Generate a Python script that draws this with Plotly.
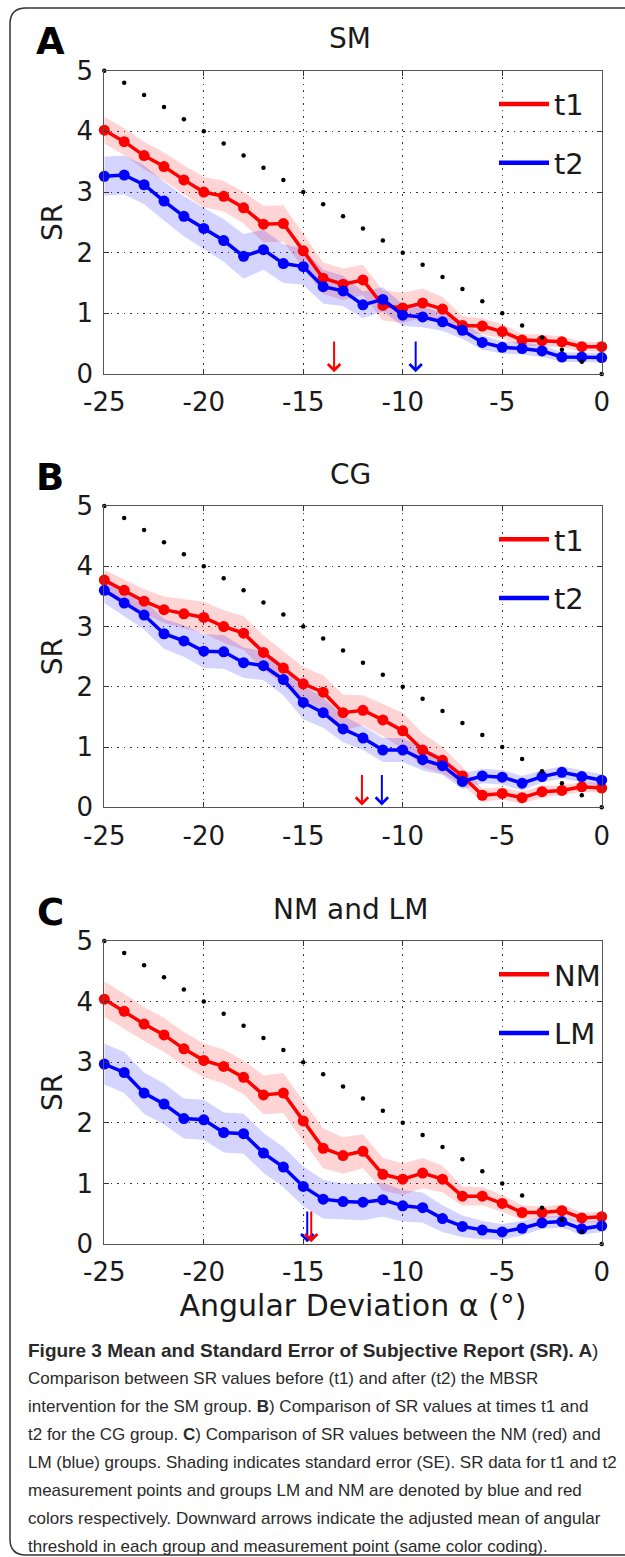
import plotly.graph_objects as go

W, H = 625, 1557

# ---------------- data ----------------
alpha = [-25, -24, -23, -22, -21, -20, -19, -18, -17, -16, -15, -14, -13,
         -12, -11, -10, -9, -8, -7, -6, -5, -4, -3, -2, -1, 0]
ref_line = [5.0, 4.8, 4.6, 4.4, 4.2, 4.0, 3.8, 3.6, 3.4, 3.2, 3.0, 2.8, 2.6,
            2.4, 2.2, 2.0, 1.8, 1.6, 1.4, 1.2, 1.0, 0.8, 0.6, 0.4, 0.2, 0.0]

sm_t1 = [4.02, 3.83, 3.60, 3.42, 3.20, 3.00, 2.93, 2.74, 2.47, 2.48, 2.03, 1.58, 1.48,
         1.55, 1.13, 1.09, 1.17, 1.07, 0.80, 0.79, 0.70, 0.56, 0.55, 0.53, 0.45, 0.45]
sm_t1_se = [0.22, 0.22, 0.23, 0.23, 0.24, 0.25, 0.25, 0.26, 0.30, 0.30, 0.28, 0.26, 0.26,
            0.25, 0.25, 0.25, 0.24, 0.20, 0.15, 0.13, 0.12, 0.10, 0.10, 0.09, 0.08, 0.08]
sm_t2 = [3.26, 3.28, 3.12, 2.85, 2.60, 2.40, 2.20, 1.94, 2.05, 1.82, 1.77, 1.44, 1.37,
         1.14, 1.23, 0.97, 0.94, 0.86, 0.72, 0.52, 0.44, 0.42, 0.38, 0.28, 0.28, 0.27]
sm_t2_se = [0.32, 0.32, 0.32, 0.32, 0.33, 0.34, 0.35, 0.37, 0.33, 0.32, 0.30, 0.28, 0.25,
            0.22, 0.20, 0.18, 0.17, 0.15, 0.14, 0.12, 0.10, 0.10, 0.10, 0.08, 0.08, 0.08]

cg_t1 = [3.77, 3.60, 3.42, 3.28, 3.21, 3.15, 3.00, 2.89, 2.57, 2.31, 2.05, 1.91, 1.57,
         1.61, 1.45, 1.27, 0.95, 0.78, 0.52, 0.20, 0.23, 0.16, 0.26, 0.28, 0.34, 0.32]
cg_t1_se = [0.17, 0.18, 0.20, 0.22, 0.24, 0.26, 0.27, 0.28, 0.28, 0.28, 0.28, 0.28, 0.30,
            0.25, 0.27, 0.30, 0.28, 0.22, 0.15, 0.11, 0.10, 0.10, 0.10, 0.08, 0.08, 0.08]
cg_t2 = [3.60, 3.39, 3.19, 2.88, 2.76, 2.59, 2.58, 2.40, 2.35, 2.12, 1.74, 1.57, 1.30,
         1.15, 0.95, 0.95, 0.79, 0.69, 0.43, 0.52, 0.50, 0.40, 0.51, 0.58, 0.51, 0.45]
cg_t2_se = [0.21, 0.22, 0.24, 0.25, 0.26, 0.28, 0.28, 0.25, 0.24, 0.26, 0.28, 0.25, 0.22,
            0.20, 0.20, 0.20, 0.18, 0.15, 0.13, 0.12, 0.12, 0.12, 0.10, 0.10, 0.10, 0.10]

nm = [4.04, 3.84, 3.63, 3.45, 3.22, 3.03, 2.93, 2.75, 2.46, 2.49, 2.03, 1.58, 1.46,
      1.53, 1.15, 1.07, 1.17, 1.07, 0.79, 0.79, 0.67, 0.52, 0.52, 0.55, 0.43, 0.45]
nm_se = [0.29, 0.29, 0.28, 0.28, 0.28, 0.28, 0.28, 0.28, 0.32, 0.33, 0.33, 0.33, 0.30,
         0.28, 0.27, 0.26, 0.25, 0.22, 0.16, 0.15, 0.14, 0.12, 0.10, 0.10, 0.09, 0.08]
lm = [2.97, 2.83, 2.49, 2.31, 2.07, 2.05, 1.84, 1.82, 1.50, 1.27, 0.95, 0.74, 0.70,
      0.69, 0.73, 0.63, 0.60, 0.42, 0.29, 0.23, 0.20, 0.26, 0.35, 0.37, 0.25, 0.30]
lm_se = [0.34, 0.34, 0.34, 0.34, 0.33, 0.33, 0.33, 0.33, 0.33, 0.33, 0.33, 0.32, 0.30,
         0.30, 0.28, 0.26, 0.25, 0.22, 0.18, 0.15, 0.13, 0.12, 0.10, 0.10, 0.10, 0.10]

# adjusted mean angular thresholds (arrows): [red, blue]
thr_sm = [-13.45, -9.35]
thr_cg = [-12.05, -11.05]
thr_nmlm = [-14.6, -14.8]

xtick_vals = [-25, -20, -15, -10, -5, 0]
xtick_text = ["-25", "-20", "-15", "-10", "-5", "0"]
ytick_vals = [0, 1, 2, 3, 4, 5]
ytick_text = ["0", "1", "2", "3", "4", "5"]

panel_letters = ["A", "B", "C"]
panel_titles = ["SM", "CG", "NM and LM"]
legend_names = [["t1", "t2"], ["t1", "t2"], ["NM", "LM"]]
x_title = "Angular Deviation α (°)"
y_title = "SR"

caption_lines = [
    "<b>Figure 3 Mean and Standard Error of Subjective Report (SR). A</b>)",
    "Comparison between SR values before (t1) and after (t2) the MBSR",
    "intervention for the SM group. <b>B</b>) Comparison of SR values at times t1 and",
    "t2 for the CG group. <b>C</b>) Comparison of SR values between the NM (red) and",
    "LM (blue) groups. Shading indicates standard error (SE). SR data for t1 and t2",
    "measurement points and groups LM and NM are denoted by blue and red",
    "colors respectively. Downward arrows indicate the adjusted mean of angular",
    "threshold in each group and measurement point (same color coding).",
]

# ---------------- layout helpers ----------------
def fx(p):
    return p / W

def fy(p):
    return 1 - p / H

RED, BLUE = "#FF0000", "#0000FF"
RED_FILL, BLUE_FILL = "rgba(255,0,0,0.17)", "rgba(0,0,255,0.17)"
FONT = "DejaVu Sans"
CAP_FONT = "Liberation Sans, Arial, sans-serif"
TXT = "#1a1a1a"

plot_left, plot_right = 104.3, 601.7
panel_tops = [70.7, 506.0, 941.0]
panel_bottoms = [374.0, 807.3, 1244.0]

series = [
    [(sm_t1, sm_t1_se), (sm_t2, sm_t2_se)],
    [(cg_t1, cg_t1_se), (cg_t2, cg_t2_se)],
    [(nm, nm_se), (lm, lm_se)],
]
thresholds = [thr_sm, thr_cg, thr_nmlm]

fig = go.Figure()
annotations = []
layout = {}

for i in range(3):
    sfx = "" if i == 0 else str(i + 1)
    xa, ya = "x" + sfx, "y" + sfx
    leg = "legend" + sfx
    (r_y, r_se), (b_y, b_se) = series[i]
    # SE bands
    for yv, se, fc in [(r_y, r_se, RED_FILL), (b_y, b_se, BLUE_FILL)]:
        up = [v + s for v, s in zip(yv, se)]
        lo = [v - s for v, s in zip(yv, se)]
        fig.add_trace(go.Scatter(x=alpha + alpha[::-1], y=up + lo[::-1], fill="toself",
                                 fillcolor=fc, line=dict(width=0), mode="lines",
                                 hoverinfo="skip", showlegend=False, xaxis=xa, yaxis=ya))
    # mean lines
    for yv, col in [(r_y, RED), (b_y, BLUE)]:
        fig.add_trace(go.Scatter(x=alpha, y=yv, mode="lines+markers",
                                 line=dict(color=col, width=3.5),
                                 marker=dict(color=col, size=11),
                                 cliponaxis=False, showlegend=False, xaxis=xa, yaxis=ya))
    # reference dots
    fig.add_trace(go.Scatter(x=alpha, y=ref_line, mode="markers",
                             marker=dict(color="black", size=4.5),
                             cliponaxis=False, showlegend=False, xaxis=xa, yaxis=ya))
    # legend-only entries
    for k, (nmv, col) in enumerate(zip(legend_names[i], [RED, BLUE])):
        fig.add_trace(go.Scatter(x=[None], y=[None], mode="lines", name=nmv,
                                 line=dict(color=col, width=4.5), legend=leg,
                                 legendgroup=f"g{i}{k}", xaxis=xa, yaxis=ya))
    top, bot = panel_tops[i], panel_bottoms[i]
    layout["xaxis" + sfx] = dict(
        domain=[fx(plot_left), fx(plot_right)], anchor=ya, range=[-25, 0],
        tickvals=xtick_vals, ticktext=xtick_text, ticks="inside", ticklen=5,
        tickcolor="#333", showline=True, linecolor="#555", linewidth=1.3, mirror="ticks",
        showgrid=True, gridcolor="#333", griddash="1.5px,5px", gridwidth=1.2,
        zeroline=False, tickfont=dict(family=FONT, size=26, color=TXT),
        ticklabelstandoff=5, fixedrange=True, automargin=False)
    layout["yaxis" + sfx] = dict(
        domain=[fy(bot), fy(top)], anchor=xa, range=[0, 5],
        tickvals=ytick_vals, ticktext=ytick_text, ticks="inside", ticklen=5,
        tickcolor="#333", showline=True, linecolor="#555", linewidth=1.3, mirror="ticks",
        showgrid=True, gridcolor="#333", griddash="1.5px,5px", gridwidth=1.2,
        zeroline=False, tickfont=dict(family=FONT, size=26, color=TXT),
        ticklabelstandoff=5, fixedrange=True, automargin=False,
        title=dict(text=y_title, font=dict(family=FONT, size=28, color=TXT), standoff=5))
    layout[leg] = dict(x=fx(494), y=fy(top + 8), xanchor="left", yanchor="top",
                       bgcolor="rgba(0,0,0,0)", borderwidth=0, itemwidth=50,
                       tracegroupgap=18, font=dict(family=FONT, size=29, color=TXT))
    # panel letter and title
    annotations.append(dict(text="<b>%s</b>" % panel_letters[i], x=fx(50), y=fy(top - 29),
                            xref="paper", yref="paper", xanchor="center", yanchor="middle",
                            showarrow=False, font=dict(family=FONT, size=37, color="black")))
    annotations.append(dict(text=panel_titles[i], x=fx(350), y=fy(top - 32),
                            xref="paper", yref="paper", xanchor="center", yanchor="middle",
                            showarrow=False, font=dict(family=FONT, size=28, color=TXT)))
    # arrows: blue first, red on top
    for xv, col in [(thresholds[i][1], BLUE), (thresholds[i][0], RED)]:
        annotations.append(dict(x=xv, y=0.03, ax=xv, ay=0.56, xref=xa, yref=ya,
                                axref=xa, ayref=ya, text="", showarrow=True,
                                arrowhead=4, arrowsize=1.2, arrowwidth=2,
                                arrowcolor=col, standoff=0, startstandoff=0))

layout["xaxis3"]["title"] = dict(text=x_title, font=dict(family=FONT, size=30, color=TXT),
                                 standoff=8)

for j, line in enumerate(caption_lines):
    annotations.append(dict(text=line, x=fx(26), y=fy(1350 + 28.1 * j), xref="paper",
                            yref="paper", xanchor="left", yanchor="middle", showarrow=False,
                            font=dict(family=CAP_FONT, size=19 if j == 0 else 17,
                                      color="#2a2a2a")))

frame_path = (f"M {fx(640)},{fy(8)} L {fx(26)},{fy(8)} Q {fx(10)},{fy(8)} {fx(10)},{fy(24)} "
              f"L {fx(10)},{fy(1539)} Q {fx(10)},{fy(1555)} {fx(26)},{fy(1555)} L {fx(640)},{fy(1555)}")

fig.update_layout(
    width=W, height=H, margin=dict(l=0, r=0, t=0, b=0, pad=0, autoexpand=False),
    paper_bgcolor="white", plot_bgcolor="white",
    annotations=annotations,
    shapes=[dict(type="path", path=frame_path, xref="paper", yref="paper",
                 line=dict(color="#333", width=1.5))],
    **layout,
)

fig.write_html("out.html", config={"displayModeBar": False},
               post_script="document.body.style.margin='0';")
